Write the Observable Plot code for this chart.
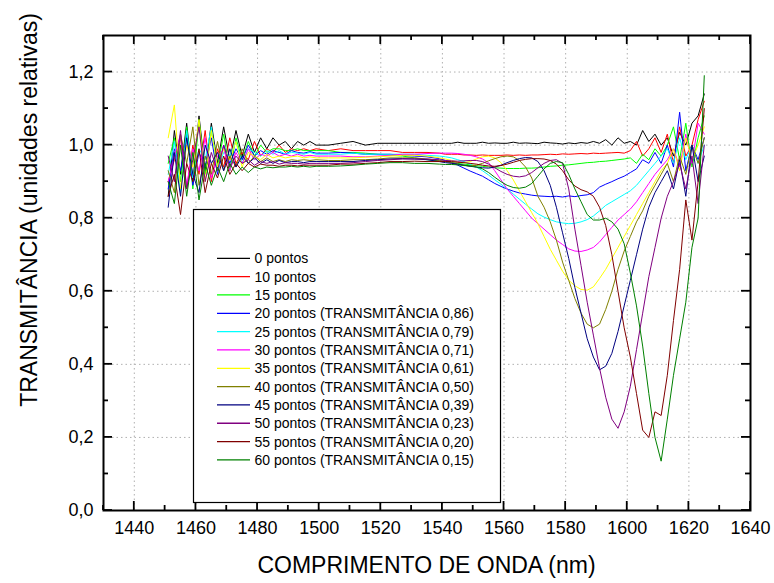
<!DOCTYPE html>
<html><head><meta charset="utf-8">
<script src="https://cdn.jsdelivr.net/npm/d3@7"></script>
<script src="https://cdn.jsdelivr.net/npm/@observablehq/plot@0.6"></script>
<style>body{margin:0;background:#fff;font-family:"Liberation Sans",Arial,sans-serif}</style>
</head><body><div id="chart"></div>
<script>
const wavelength = [1451,1453,1455,1457,1459,1461,1463,1465,1467,1469,1471,1473,1475,1477,1479,1481,1483,1485,1487,1489,1491,1493,1495,1497,1499,
1503,1507,1511,1515,1519,1523,1527,1531,1535,1539,
1541,1543,1545,1547,1549,1551,1553,1555,1557,1559,1561,1563,1565,1567,1569,1571,1573,1575,1577,1579,1581,1583,1585,1587,1589,1591,1593,1595,1597,1599,1601,1603,1605,1607,1609,1611,1613,1615,1617,1619,1621,1623,1625];

const p0 = [0.86,1.04,0.92,1.06,0.90,1.08,0.93,1.06,0.95,1.05,0.96,1.04,0.97,1.03,0.98,1.02,0.99,1.02,1.00,1.01,0.99,1.01,1.00,1.01,1.00,
1.00,1.005,1.01,1.00,1.005,1.005,1.005,1.005,1.005,1.005,
1.005,1.005,1.008,1.005,1.005,1.005,1.008,1.005,1.006,1.005,
1.005,1.008,1.005,1.006,1.005,1.004,1.008,1.006,1.005,1.003,
1.006,1.004,1.007,1.005,1.01,1.005,1.015,1.0,1.02,1.005,
1.01,1.0,1.04,1.01,1.03,1.0,1.02,0.97,1.035,1.0,
1.06,1.08,1.14];
const p10 = [0.90,0.96,1.02,0.88,1.00,0.92,1.04,0.90,0.99,0.94,1.02,0.95,0.98,0.96,1.01,0.97,0.99,0.98,1.00,0.98,0.99,0.985,0.99,0.985,0.99,
0.985,0.99,0.985,0.985,0.985,0.985,0.98,0.98,0.98,0.978,
0.975,0.975,0.975,0.973,0.973,0.972,0.973,0.972,0.972,0.972,
0.973,0.972,0.973,0.972,0.973,0.973,0.974,0.975,0.974,0.976,
0.975,0.976,0.977,0.976,0.978,0.977,0.978,0.979,0.980,0.978,
0.985,1.01,0.97,0.99,1.02,0.98,1.03,0.95,1.05,0.97,
1.0,1.07,1.12];
const p15 = [0.95,1.02,0.90,1.05,0.88,1.07,0.92,1.04,0.94,1.03,0.93,1.02,0.96,1.01,0.97,1.00,0.98,0.99,0.99,0.985,0.985,0.99,0.985,0.985,0.985,
0.985,0.98,0.98,0.978,0.975,0.972,0.97,0.965,0.96,0.957,
0.955,0.952,0.95,0.948,0.946,0.944,0.942,0.94,0.938,0.937,
0.936,0.936,0.936,0.937,0.937,0.938,0.94,0.942,0.943,0.945,
0.946,0.948,0.95,0.952,0.953,0.955,0.956,0.958,0.96,0.962,
0.965,0.95,0.975,0.96,0.99,0.97,1.0,1.05,0.96,1.06,
0.94,1.02,1.08];
const p20 = [0.88,0.99,0.93,1.03,0.89,0.98,0.94,1.02,0.92,1.00,0.95,0.99,0.96,1.00,0.97,0.985,0.975,0.985,0.98,0.975,0.985,0.98,0.978,0.982,0.978,
0.978,0.98,0.978,0.975,0.975,0.975,0.972,0.97,0.968,0.963,
0.958,0.952,0.945,0.937,0.929,0.922,0.915,0.905,0.895,0.887,
0.88,0.874,0.869,0.866,0.863,0.861,0.86,0.859,0.86,0.858,
0.861,0.859,0.862,0.864,0.87,0.885,0.893,0.9,0.908,0.915,
0.925,0.935,0.96,0.95,0.98,0.95,1.0,0.94,1.09,0.93,
1.0,0.96,1.02];
const p25 = [0.92,1.01,0.87,1.04,0.91,0.99,0.96,1.05,0.93,0.98,0.97,1.01,0.95,0.99,0.98,0.97,0.985,0.975,0.985,0.975,0.98,0.978,0.975,0.98,0.975,
0.975,0.975,0.978,0.975,0.975,0.975,0.975,0.975,0.972,0.97,
0.968,0.965,0.96,0.955,0.947,0.94,0.93,0.918,0.905,0.893,
0.88,0.866,0.852,0.838,0.825,0.812,0.803,0.796,0.79,0.787,
0.785,0.786,0.79,0.796,0.806,0.82,0.835,0.845,0.855,0.865,
0.875,0.89,0.91,0.93,0.95,0.97,0.99,0.95,1.02,0.96,
1.0,0.95,1.0];
const p30 = [0.90,0.97,1.03,0.89,0.99,0.93,1.02,0.91,0.97,0.99,0.93,0.98,0.95,0.99,0.96,0.975,0.97,0.98,0.97,0.975,0.97,0.975,0.97,0.972,0.97,
0.97,0.97,0.968,0.968,0.97,0.972,0.975,0.975,0.977,0.978,
0.978,0.978,0.977,0.975,0.972,0.968,0.962,0.952,0.93,0.905,
0.88,0.86,0.84,0.82,0.8,0.785,0.77,0.755,0.74,0.728,
0.716,0.71,0.709,0.713,0.72,0.735,0.755,0.775,0.795,0.81,
0.825,0.845,0.87,0.895,0.92,0.94,0.96,0.99,0.94,1.03,
0.95,1.06,1.03];
const p35 = [1.02,1.11,0.88,1.00,0.94,1.07,0.90,1.04,0.94,0.99,0.96,1.01,0.94,0.98,0.97,0.96,0.975,0.965,0.97,0.965,0.968,0.97,0.965,0.968,0.965,
0.965,0.965,0.965,0.967,0.968,0.97,0.972,0.972,0.97,0.965,
0.962,0.958,0.953,0.952,0.955,0.962,0.968,0.97,0.965,0.952,
0.93,0.905,0.875,0.845,0.815,0.785,0.75,0.715,0.685,0.655,
0.63,0.615,0.605,0.603,0.612,0.635,0.66,0.69,0.72,0.75,
0.78,0.81,0.84,0.87,0.9,0.93,0.95,0.99,0.93,1.02,
0.96,1.0,1.05];
const p40 = [0.93,0.87,1.03,0.95,1.05,0.89,0.97,0.92,1.01,0.93,0.97,0.94,0.99,0.95,0.97,0.955,0.965,0.955,0.96,0.955,0.96,0.958,0.96,0.958,0.96,
0.958,0.958,0.96,0.96,0.962,0.965,0.965,0.965,0.962,0.958,
0.955,0.952,0.948,0.945,0.943,0.945,0.95,0.957,0.963,0.968,
0.97,0.968,0.958,0.94,0.91,0.86,0.83,0.79,0.74,0.68,
0.63,0.58,0.54,0.51,0.5,0.51,0.55,0.6,0.66,0.71,
0.75,0.79,0.82,0.86,0.89,0.92,0.95,0.90,0.97,0.92,
1.0,0.95,1.02];
const p45 = [0.83,0.98,0.86,1.02,0.92,0.87,1.00,0.95,0.98,0.93,0.99,0.94,0.97,0.95,0.965,0.95,0.96,0.95,0.958,0.952,0.955,0.955,0.952,0.955,0.955,
0.955,0.955,0.955,0.958,0.96,0.962,0.963,0.962,0.96,0.955,
0.952,0.95,0.948,0.945,0.942,0.94,0.938,0.937,0.94,0.945,
0.952,0.958,0.963,0.966,0.965,0.955,0.93,0.89,0.83,0.76,
0.69,0.61,0.54,0.47,0.42,0.385,0.395,0.43,0.49,0.56,
0.63,0.7,0.77,0.83,0.87,0.9,0.93,0.88,0.96,0.86,
1.0,0.9,0.97];
const p50 = [0.97,0.90,1.04,0.88,0.96,1.05,0.90,0.98,0.93,1.00,0.94,0.97,0.95,0.96,0.945,0.955,0.95,0.955,0.948,0.952,0.95,0.95,0.948,0.95,0.95,
0.95,0.95,0.952,0.955,0.958,0.96,0.962,0.962,0.962,0.96,
0.958,0.957,0.956,0.957,0.958,0.958,0.955,0.948,0.938,0.928,
0.92,0.915,0.913,0.916,0.925,0.938,0.95,0.958,0.96,0.95,
0.88,0.77,0.67,0.57,0.48,0.39,0.31,0.25,0.225,0.27,
0.34,0.44,0.54,0.64,0.72,0.8,0.86,0.9,0.95,0.88,
0.97,0.84,1.0];
const p55 = [0.86,0.92,0.81,0.95,0.90,0.99,0.87,0.95,0.91,0.97,0.92,0.95,0.93,0.95,0.94,0.948,0.945,0.945,0.942,0.945,0.945,0.943,0.945,0.945,0.945,
0.945,0.948,0.948,0.95,0.952,0.955,0.955,0.956,0.955,0.955,
0.955,0.955,0.953,0.952,0.95,0.948,0.945,0.943,0.942,0.944,
0.948,0.953,0.958,0.961,0.963,0.963,0.962,0.958,0.948,0.93,
0.905,0.888,0.878,0.872,0.86,0.83,0.78,0.7,0.6,0.5,
0.42,0.32,0.22,0.2,0.27,0.26,0.37,0.52,0.66,0.85,
0.74,0.9,1.1];
const p60 = [0.90,0.84,1.00,0.86,0.98,0.85,0.95,0.89,0.94,0.90,0.95,0.92,0.94,0.925,0.94,0.935,0.94,0.938,0.94,0.94,0.942,0.94,0.942,0.94,0.942,
0.942,0.943,0.945,0.948,0.95,0.952,0.952,0.95,0.95,0.948,
0.947,0.947,0.946,0.944,0.943,0.94,0.935,0.925,0.912,0.9,
0.89,0.884,0.882,0.885,0.895,0.915,0.935,0.95,0.955,0.952,
0.92,0.88,0.845,0.81,0.795,0.795,0.8,0.79,0.77,0.73,
0.65,0.56,0.45,0.32,0.2,0.135,0.25,0.37,0.47,0.57,
0.72,0.8,1.19];

const seriesNames = ["0 pontos","10 pontos","15 pontos",
"20 pontos (TRANSMITÂNCIA 0,86)","25 pontos (TRANSMITÂNCIA 0,79)","30 pontos (TRANSMITÂNCIA 0,71)",
"35 pontos (TRANSMITÂNCIA 0,61)","40 pontos (TRANSMITÂNCIA 0,50)","45 pontos (TRANSMITÂNCIA 0,39)",
"50 pontos (TRANSMITÂNCIA 0,23)","55 pontos (TRANSMITÂNCIA 0,20)","60 pontos (TRANSMITÂNCIA 0,15)"];
const seriesValues = [p0,p10,p15,p20,p25,p30,p35,p40,p45,p50,p55,p60];
const seriesColors = ["#000000","#ff0000","#00ff00","#0000ff","#00ffff","#ff00ff","#ffff00","#808000","#000080","#800080","#800000","#008000"];

const xTicks = [1440,1460,1480,1500,1520,1540,1560,1580,1600,1620,1640];
const xMinor = [1430,1450,1470,1490,1510,1530,1550,1570,1590,1610,1630];
const yTicks = [0,0.2,0.4,0.6,0.8,1.0,1.2];
const yMinor = [0.1,0.3,0.5,0.7,0.9,1.1];
const xTitle = "COMPRIMENTO DE ONDA (nm)";
const yTitle = "TRANSMITÂNCIA (unidades relativas)";

const rows = [];
seriesValues.forEach((vals, i) => vals.forEach((v, j) => rows.push({x: wavelength[j], y: v, s: seriesNames[i]})));

const plot = Plot.plot({
  width: 774, height: 583,
  marginLeft: 103, marginRight: 24, marginTop: 35, marginBottom: 73,
  x: {domain: [1430, 1640]},
  y: {domain: [0, 1.3]},
  color: {domain: seriesNames, range: seriesColors},
  style: {fontFamily: "'Liberation Sans', Arial, sans-serif", fontSize: "18px", color: "#000", background: "#fff"},
  marks: [
    Plot.gridX(xTicks, {stroke: "#b0b0b0", strokeOpacity: 1, strokeDasharray: "1.5,3"}),
    Plot.gridY(yTicks, {stroke: "#b0b0b0", strokeOpacity: 1, strokeDasharray: "1.5,3"}),
    Plot.line(rows, {x: "x", y: "y", z: "s", stroke: "s", strokeWidth: 1}),
    Plot.axisX(xTicks, {tickSize: 0, tickPadding: 11, tickFormat: d => String(d), label: null, fontSize: 18}),
    Plot.axisY(yTicks, {tickSize: 0, tickPadding: 10, tickFormat: d => d.toFixed(1).replace(".", ","), label: null, fontSize: 18}),
    Plot.frame({stroke: "#000", strokeWidth: 2})
  ]
});
document.getElementById("chart").appendChild(plot);

const svg = d3.select(plot);
const xs = plot.scale("x"), ys = plot.scale("y");
const [L, R] = xs.range, [B, T] = ys.range;
const g = svg.append("g").attr("stroke", "#000").attr("stroke-width", 1.8);
function tx(v, len) {
  const x = xs.apply(v);
  g.append("line").attr("x1", x).attr("x2", x).attr("y1", B).attr("y2", B - len);
  g.append("line").attr("x1", x).attr("x2", x).attr("y1", T).attr("y2", T + len);
}
function ty(v, len) {
  const y = ys.apply(v);
  g.append("line").attr("y1", y).attr("y2", y).attr("x1", L).attr("x2", L + len);
  g.append("line").attr("y1", y).attr("y2", y).attr("x1", R).attr("x2", R - len);
}
xTicks.forEach(v => tx(v, 9)); xMinor.forEach(v => tx(v, 5));
yTicks.forEach(v => ty(v, 9)); yMinor.forEach(v => ty(v, 5));

// axis titles
svg.append("text").attr("x", (L + R) / 2).attr("y", 573).attr("text-anchor", "middle")
  .attr("font-size", 23).attr("fill", "#000").text(xTitle);
svg.append("text").attr("transform", "translate(37,210) rotate(-90)").attr("text-anchor", "middle")
  .attr("font-size", 23).attr("fill", "#000").text(yTitle);

// legend
const lg = svg.append("g");
lg.append("rect").attr("x", 193.5).attr("y", 209.5).attr("width", 307).attr("height", 293)
  .attr("fill", "#fff").attr("stroke", "#000").attr("stroke-width", 1.2);
seriesNames.forEach((n, i) => {
  const y = 258.3 + i * 18.33;
  lg.append("line").attr("x1", 217).attr("x2", 250).attr("y1", y).attr("y2", y)
    .attr("stroke", seriesColors[i]).attr("stroke-width", 1.3);
  lg.append("text").attr("x", 254.5).attr("y", y).attr("dy", "0.35em").attr("font-size", 14)
    .attr("text-anchor", "start").attr("fill", "#000").text(n);
});
</script></body></html>
